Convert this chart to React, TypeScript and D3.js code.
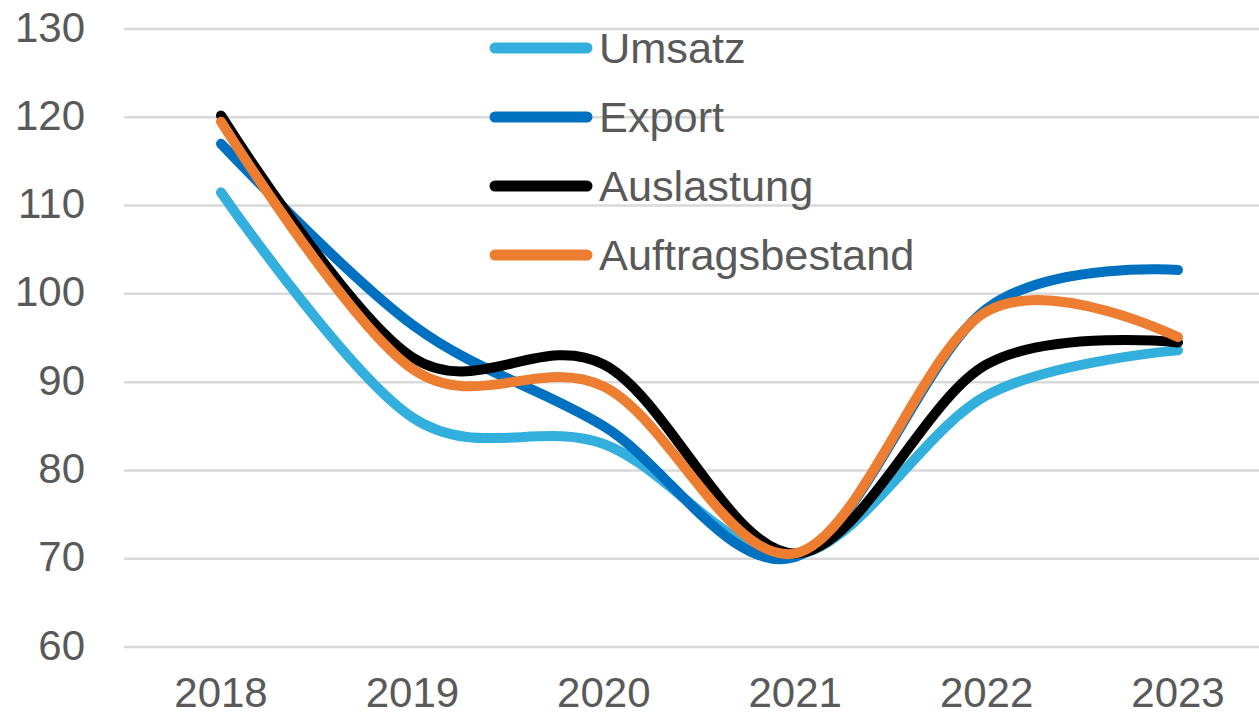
import React from 'react';
import * as d3 from 'd3';

const WIDTH = 1259;
const HEIGHT = 716;

const years = ['2018', '2019', '2020', '2021', '2022', '2023'];
const yTicks = [60, 70, 80, 90, 100, 110, 120, 130];

const umsatz = [111.5, 86, 83, 70.4, 88.5, 93.6];
const exportValues = [117, 96.5, 85, 70.2, 98.3, 102.7];
const auslastung = [120.2, 92.8, 92, 70.6, 92, 94.5];
const auftragsbestand = [119.5, 91.5, 89.5, 70.6, 98, 95.1];

const seriesNames = ['Umsatz', 'Export', 'Auslastung', 'Auftragsbestand'];
const seriesColors = ['#33afdd', '#0070c0', '#000000', '#ed7d31'];
const seriesValues = [umsatz, exportValues, auslastung, auftragsbestand];

const FONT = '"Liberation Sans", Arial, sans-serif';
const TEXT_COLOR = '#595959';

export default function App() {
    const x = d3.scalePoint<string>().domain(years).range([221, 1178]);
    const y = d3.scaleLinear().domain([60, 130]).range([647, 29]);

    const line = d3
        .line<number>()
        .x((_, i) => x(years[i]) as number)
        .y((d) => y(d))
        .curve(d3.curveCatmullRom.alpha(0));

    return (
        <svg
            width={WIDTH}
            height={HEIGHT}
            style={{ position: 'absolute', left: 0, top: 0, background: '#fff' }}
            fontFamily={FONT}
        >
            {yTicks.map((t) => (
                <g key={t}>
                    <line
                        x1={124}
                        x2={WIDTH}
                        y1={y(t)}
                        y2={y(t)}
                        stroke="#d9d9d9"
                        strokeWidth={2.5}
                    />
                    <text
                        x={85}
                        y={y(t)}
                        dy="0.3em"
                        textAnchor="end"
                        fontSize={42}
                        fill={TEXT_COLOR}
                    >
                        {t}
                    </text>
                </g>
            ))}

            {years.map((yr) => (
                <text
                    key={yr}
                    x={x(yr)}
                    y={707}
                    textAnchor="middle"
                    fontSize={42}
                    fill={TEXT_COLOR}
                >
                    {yr}
                </text>
            ))}

            {seriesValues.map((vals, i) => (
                <path
                    key={seriesNames[i]}
                    d={line(vals) || ''}
                    fill="none"
                    stroke={seriesColors[i]}
                    strokeWidth={10}
                    strokeLinecap="round"
                    strokeLinejoin="round"
                />
            ))}

            {/* legend */}
            {seriesNames.map((name, i) => {
                const cy = 48 + i * 69;
                return (
                    <g key={name}>
                        <line
                            x1={495}
                            x2={587}
                            y1={cy}
                            y2={cy}
                            stroke={seriesColors[i]}
                            strokeWidth={11}
                            strokeLinecap="round"
                        />
                        <text x={599} y={cy + 15} fontSize={43.3} fill={TEXT_COLOR}>
                            {name}
                        </text>
                    </g>
                );
            })}
        </svg>
    );
}
